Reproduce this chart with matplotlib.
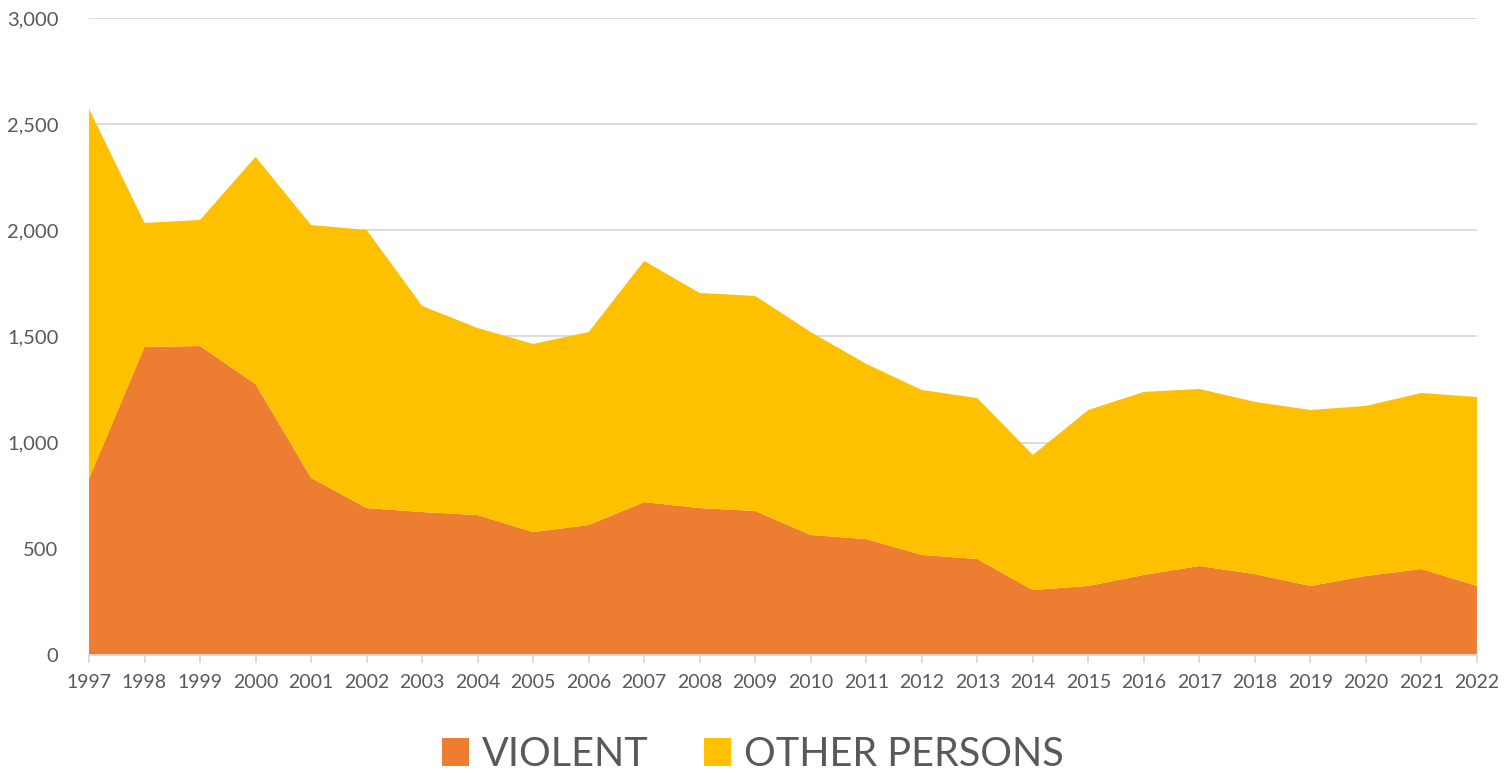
import matplotlib.pyplot as plt
from matplotlib.patches import Patch

years = list(range(1997, 2023))
violent = [830, 1451, 1455, 1276, 834, 692, 673, 659, 579, 612, 720, 692, 678,
           565, 546, 471, 452, 306, 325, 377, 419, 381, 325, 372, 405, 325]
total = [2572, 2035, 2049, 2346, 2025, 2002, 1644, 1540, 1465, 1521, 1856, 1705, 1691,
         1521, 1371, 1248, 1210, 942, 1154, 1239, 1253, 1192, 1154, 1173, 1234, 1215]
other_persons = [t - v for t, v in zip(total, violent)]
labels = ["VIOLENT", "OTHER PERSONS"]
colors = ["#ED7D31", "#FFC000"]

plt.rcParams['font.family'] = ['Lato', 'DejaVu Sans']
text_color = "#595959"

fig = plt.figure(figsize=(15.06, 7.73), dpi=100)
ax = fig.add_axes([0.0591, 0.1527, 0.9216, 0.8240])

ax.stackplot(years, violent, other_persons, colors=colors, linewidth=0, zorder=2)

ax.set_xlim(1997, 2022)
ax.set_ylim(0, 3000)
ax.set_yticks(range(0, 3001, 500))
ax.set_yticklabels([f"{v:,}" for v in range(0, 3001, 500)])
ax.set_xticks(years)
ax.set_xticklabels([str(y) for y in years])

ax.grid(axis="y", color="#D9D9D9", linewidth=1.3, zorder=1)
ax.set_axisbelow(True)
for s in ["top", "right", "left"]:
    ax.spines[s].set_visible(False)
ax.spines["bottom"].set_color("#D9D9D9")
ax.spines["bottom"].set_linewidth(1.3)
ax.spines["bottom"].set_zorder(3)

ax.tick_params(axis="y", length=0, pad=22, labelsize=14.5, labelcolor=text_color)
ax.tick_params(axis="x", length=6, width=1.3, color="#D9D9D9", pad=8,
               labelsize=14, labelcolor=text_color)

handles = [Patch(facecolor=c, edgecolor="none") for c in colors]
fig.legend(handles, labels, loc="center", bbox_to_anchor=(0.5, 0.024),
           ncol=2, frameon=False, fontsize=28.5, labelcolor=text_color,
           handlelength=0.68, handleheight=0.68, handletextpad=0.33, columnspacing=1.4)

fig.savefig("out.png", dpi=100)
